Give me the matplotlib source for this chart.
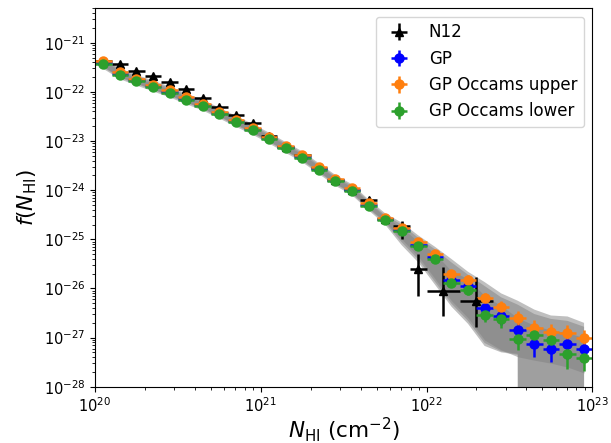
import numpy as np
import matplotlib
matplotlib.use("Agg")
import matplotlib.pyplot as plt

# GP bins (log10 N_HI centres), half width 0.05 dex
gp_log_nhi = [20.05, 20.15, 20.25, 20.35, 20.45, 20.55, 20.65, 20.75, 20.85, 20.95,
              21.05, 21.15, 21.25, 21.35, 21.45, 21.55, 21.65, 21.75, 21.85, 21.95,
              22.05, 22.15, 22.25, 22.35, 22.45, 22.55, 22.65, 22.75, 22.85, 22.95]
gp_halfwidth = 0.05

# log10 f(N_HI)
gp_logf = [-21.41, -21.63, -21.76, -21.88, -22.00, -22.14, -22.27, -22.43, -22.60, -22.76,
           -22.94, -23.13, -23.32, -23.56, -23.80, -23.99, -24.30, -24.58, -24.81, -25.11,
           -25.36, -25.83, -25.96, -26.40, -26.57, -26.85, -27.13, -27.24, -27.13, -27.24]
occ_upper_logf = [-21.37, -21.60, -21.73, -21.85, -21.97, -22.11, -22.24, -22.40, -22.57, -22.73,
                  -22.91, -23.10, -23.29, -23.53, -23.77, -23.96, -24.27, -24.56, -24.76, -25.05,
                  -25.29, -25.70, -25.82, -26.20, -26.37, -26.61, -26.81, -26.88, -26.91, -27.01]
occ_lower_logf = [-21.44, -21.65, -21.78, -21.90, -22.02, -22.16, -22.29, -22.45, -22.62, -22.78,
                  -22.96, -23.15, -23.34, -23.58, -23.82, -24.01, -24.32, -24.60, -24.84, -25.13,
                  -25.40, -25.88, -26.03, -26.54, -26.63, -27.02, -26.95, -27.05, -27.34, -27.42]
# fractional errors on the GP points
gp_relerr = [0.04, 0.04, 0.04, 0.04, 0.04, 0.04, 0.04, 0.05, 0.05, 0.05,
             0.05, 0.05, 0.06, 0.06, 0.06, 0.07, 0.07, 0.08, 0.10, 0.12,
             0.15, 0.20, 0.22, 0.28, 0.32, 0.42, 0.45, 0.45, 0.50, 0.45]

# shaded bands (log10), None -> band reaches zero
band_outer_hi = [-21.29, -21.52, -21.65, -21.77, -21.89, -22.03, -22.16, -22.32, -22.49, -22.65,
                 -22.83, -23.02, -23.21, -23.45, -23.69, -23.88, -24.19, -24.47, -24.66, -24.92,
                 -25.15, -25.40, -25.66, -25.87, -26.10, -26.25, -26.43, -26.55, -26.57, -26.70]
band_outer_lo = [-21.53, -21.74, -21.87, -21.99, -22.11, -22.25, -22.38, -22.54, -22.71, -22.87,
                 -23.05, -23.24, -23.43, -23.67, -23.91, -24.10, -24.41, -24.70, -25.12, -25.47,
                 -25.92, -26.37, -26.72, -27.17, -27.30, -27.35, None, None, None, None]
band_mid_hi = [-21.32, -21.55, -21.68, -21.80, -21.92, -22.06, -22.19, -22.35, -22.52, -22.68,
               -22.86, -23.05, -23.24, -23.48, -23.72, -23.91, -24.22, -24.51, -24.70, -24.97,
               -25.20, -25.47, -25.72, -25.95, -26.18, -26.33, -26.52, -26.62, -26.66, -26.78]
band_mid_lo = [-21.50, -21.71, -21.84, -21.96, -22.08, -22.22, -22.35, -22.51, -22.68, -22.84,
               -23.02, -23.21, -23.40, -23.64, -23.88, -24.07, -24.38, -24.66, -25.06, -25.41,
               -25.86, -26.31, -26.66, -27.11, -27.28, -27.33, None, None, None, None]
band_inner_hi = [-21.35, -21.58, -21.71, -21.83, -21.95, -22.09, -22.22, -22.38, -22.55, -22.71,
                 -22.89, -23.08, -23.27, -23.51, -23.75, -23.94, -24.25, -24.54, -24.76, -25.05,
                 -25.28, -25.65, -25.80, -26.15, -26.35, -26.60, -26.75, -26.85, -26.90, -27.00]
band_inner_lo = [-21.48, -21.69, -21.82, -21.94, -22.06, -22.20, -22.33, -22.49, -22.66, -22.82,
                 -23.00, -23.19, -23.38, -23.62, -23.86, -24.05, -24.36, -24.64, -25.00, -25.35,
                 -25.80, -26.25, -26.60, -27.05, -27.25, -27.39, -27.46, -27.52, -27.60, -27.72]

# N12 measurements
n12_log_nhi = [20.05, 20.15, 20.25, 20.35, 20.45, 20.55, 20.65, 20.75, 20.85, 20.95, 21.05,
               21.15, 21.25, 21.35, 21.45, 21.55, 21.65, 21.75, 21.85, 21.95, 22.10, 22.30]
n12_halfwidth = [0.05, 0.05, 0.05, 0.05, 0.05, 0.05, 0.05, 0.05, 0.05, 0.05, 0.05,
                 0.05, 0.05, 0.05, 0.05, 0.05, 0.05, 0.05, 0.05, 0.05, 0.10, 0.10]
n12_logf = [-21.38, -21.44, -21.58, -21.68, -21.80, -21.95, -22.12, -22.30, -22.48, -22.64, -22.89,
            -23.12, -23.28, -23.54, -23.80, -24.00, -24.19, -24.59, -24.73, -25.61, -26.05, -26.26]
n12_err_up = [0.03, 0.03, 0.03, 0.03, 0.03, 0.03, 0.03, 0.03, 0.03, 0.03, 0.03,
              0.03, 0.03, 0.04, 0.04, 0.04, 0.05, 0.07, 0.10, 0.31, 0.49, 0.50]
n12_err_dn = [0.03, 0.03, 0.03, 0.03, 0.03, 0.03, 0.03, 0.03, 0.03, 0.03, 0.03,
              0.03, 0.03, 0.04, 0.04, 0.04, 0.06, 0.09, 0.27, 0.55, 0.52, 0.52]


def to_lin(arr):
    return np.array([10.0 ** v if v is not None else 1e-300 for v in arr])


x = 10.0 ** np.array(gp_log_nhi)
xerr = [x - 10.0 ** (np.array(gp_log_nhi) - gp_halfwidth),
        10.0 ** (np.array(gp_log_nhi) + gp_halfwidth) - x]

fig = plt.figure(figsize=(6.11, 4.43), dpi=100)
ax = fig.add_axes([0.1555, 0.127, 0.814, 0.854])
ax.set_xscale('log')
ax.set_yscale('log')

for lo, hi in [(band_outer_lo, band_outer_hi), (band_mid_lo, band_mid_hi), (band_inner_lo, band_inner_hi)]:
    ax.fill_between(x, to_lin(lo), to_lin(hi), color='gray', alpha=0.5, lw=0)

# N12
xn = 10.0 ** np.array(n12_log_nhi)
yn = 10.0 ** np.array(n12_logf)
xn_err = [xn - 10.0 ** (np.array(n12_log_nhi) - np.array(n12_halfwidth)),
          10.0 ** (np.array(n12_log_nhi) + np.array(n12_halfwidth)) - xn]
yn_err = [yn - 10.0 ** (np.array(n12_logf) - np.array(n12_err_dn)),
          10.0 ** (np.array(n12_logf) + np.array(n12_err_up)) - yn]
ax.errorbar(xn, yn, xerr=xn_err, yerr=yn_err, fmt='^', color='k', ms=6,
            elinewidth=1.8, capsize=0, label='N12')

series = [(gp_logf, 'blue', 'GP'),
          (occ_upper_logf, 'C1', 'GP Occams upper'),
          (occ_lower_logf, 'C2', 'GP Occams lower')]
for logf, col, lab in series:
    y = 10.0 ** np.array(logf)
    ax.errorbar(x, y, xerr=xerr, yerr=y * np.array(gp_relerr), fmt='o', color=col,
                ms=6.5, elinewidth=1.8, capsize=0, label=lab)

ax.set_xlim(1e20, 1e23)
ax.set_ylim(1e-28, 5e-21)
ax.set_xlabel(r'$N_{\rm HI}$ (cm$^{-2}$)', fontsize=15.5, labelpad=0)
ax.set_ylabel(r'$f(N_{\rm HI})$', fontsize=15.5, labelpad=3)
ax.tick_params(labelsize=10.5)
ax.legend(loc='upper right', fontsize=12)

fig.savefig('out.png', dpi=100)
